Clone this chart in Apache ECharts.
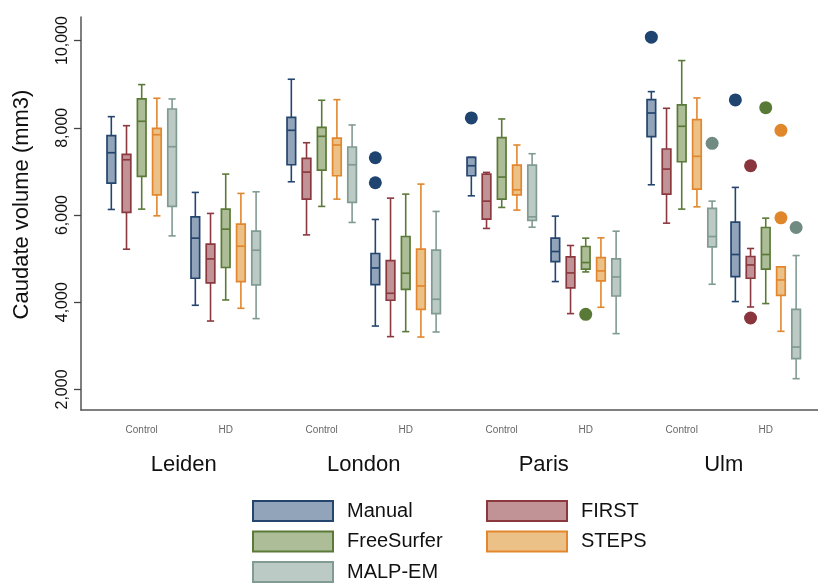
<!DOCTYPE html>
<html><head><meta charset="utf-8">
<script src="https://cdn.jsdelivr.net/npm/echarts@6/dist/echarts.min.js"></script>
<style>html,body{margin:0;padding:0;background:#fff}#c{width:818px;height:585px}</style>
</head><body><div id="c"></div>
<script>
const sites = ['Leiden','London','Paris','Ulm'];
const groups = ['Control','HD'];
const methods = ['Manual','FIRST','FreeSurfer','STEPS','MALP-EM'];
const yTicks = [2000,4000,6000,8000,10000];

// [min, Q1, median, Q3, max] per group: Leiden-Control, Leiden-HD, London-Control, London-HD, Paris-Control, Paris-HD, Ulm-Control, Ulm-HD
const manualBox = [
 [6127,6732,7428,7818,8255],[3930,4550,5469,5958,6518],
 [6762,7152,7942,8240,9113],[3454,4405,4786,5117,5898],
 [6440,6900,7129,7322,7322],[4474,4933,5163,5469,5974],
 [6693,7795,8339,8645,8829],[4015,4589,5094,5836,6633]];
const firstBox = [
 [5216,6059,7267,7391,8048],[3569,4442,4993,5331,6036],
 [5544,6364,6984,7299,7657],[3211,4045,4205,4956,6387],
 [5692,5905,6318,6938,6977],[3739,4327,4672,5039,5301],
 [5813,6479,7053,7513,8447],[3891,4550,4855,5048,5232]];
const freesurferBox = [
 [6135,6886,8149,8661,8990],[4052,4796,5675,6135,6938],
 [6197,7030,7804,8011,8631],[3326,4297,4665,5507,6479],
 [6174,6364,6870,7772,8202],[4695,4757,4910,5278,5469],
 [6135,7221,8034,8523,9541],[3969,4757,5094,5714,5928]];
const stepsBox = [
 [5981,6463,7841,7988,8677],[3861,4474,5285,5790,6495],
 [6364,6900,7605,7765,8645],[3202,3838,4373,5216,6709],
 [6112,6463,6578,7145,7605],[3884,4488,4718,5025,5476],
 [6187,6594,7345,8186,8684],[3333,4159,4511,4809,4809]];
const malpemBox = [
 [5521,6197,7566,8431,8661],[3624,4396,5193,5629,6532],
 [5829,6288,7152,7559,8064],[3318,3739,4068,5193,6082],
 [5721,5875,5958,7145,7405],[3280,4143,4580,4993,5629],
 [4412,5269,5507,6151,6318],[2247,2706,2972,3838,5071]];
// outliers: [group index, value]
const manualOut = [[3,7313],[3,6739],[4,8225],[6,10078],[7,8638]];
const firstOut = [[7,7129],[7,3638]];
const freesurferOut = [[5,3723],[7,8461]];
const stepsOut = [[7,7942],[7,5935]];
const malpemOut = [[6,7643],[7,5714]];

const boxes = [manualBox, firstBox, freesurferBox, stepsBox, malpemBox];
const outs = [manualOut, firstOut, freesurferOut, stepsOut, malpemOut];
const lineColors = ['#24456e','#8b393f','#5b7a38','#e2872d','#809b91'];
const fillColors = ['#92a4ba','#c19296','#adbd98','#ecc188','#bccac5'];
const dotColors  = ['#1f4470','#8a343c','#587a36','#e0862b','#6f8b82'];

// layout in axis units (one site = 1 unit)
const HD_SHIFT = 0.4667, METHOD_STEP = 0.0844;
const groupX = g => Math.floor(g/2) + (g%2)*HD_SHIFT;
const methodX = (g,m) => groupX(g) + (m-2)*METHOD_STEP;
const groupPos = []; for (let g=0; g<8; g++) groupPos.push(groupX(g));
const sitePos = sites.map((s,i)=> i + HD_SHIFT/2);

const FONT = "'Liberation Sans', Arial, Helvetica, sans-serif";

function makeRender(m){
  return function(params, api){
    const x = api.value(0);
    const lo = api.coord([x, api.value(1)]);
    const q1 = api.coord([x, api.value(2)]);
    const md = api.coord([x, api.value(3)]);
    const q3 = api.coord([x, api.value(4)]);
    const hi = api.coord([x, api.value(5)]);
    const cx = lo[0], half = 4.3, cap = 3.6;
    const ls = {stroke: lineColors[m], lineWidth: 1.6};
    return {type:'group', children:[
      {type:'line', shape:{x1:cx,y1:hi[1],x2:cx,y2:q3[1]}, style:ls},
      {type:'line', shape:{x1:cx,y1:q1[1],x2:cx,y2:lo[1]}, style:ls},
      {type:'line', shape:{x1:cx-cap,y1:hi[1],x2:cx+cap,y2:hi[1]}, style:ls},
      {type:'line', shape:{x1:cx-cap,y1:lo[1],x2:cx+cap,y2:lo[1]}, style:ls},
      {type:'rect', shape:{x:cx-half,y:q3[1],width:2*half,height:q1[1]-q3[1]},
        style:{fill:fillColors[m], stroke:lineColors[m], lineWidth:1.7}},
      {type:'line', shape:{x1:cx-half,y1:md[1],x2:cx+half,y2:md[1]}, style:{stroke:lineColors[m], lineWidth:1.7}}
    ]};
  };
}

const series = [];
methods.forEach((name,m)=>{
  series.push({
    name, type:'custom', renderItem: makeRender(m),
    itemStyle:{color:fillColors[m], borderColor:lineColors[m], borderWidth:2},
    encode:{x:0, y:[1,2,3,4,5]},
    data: boxes[m].map((b,g)=>[methodX(g,m)].concat(b)),
    z: 3
  });
  series.push({
    name, type:'scatter', symbol:'circle', symbolSize:13,
    itemStyle:{color:dotColors[m], opacity:1},
    data: outs[m].map(o=>[methodX(o[0],m), o[1]]),
    z: 4
  });
});

const legendItems = methods.map((name,m)=>({name, icon:'rect',
  itemStyle:{color:fillColors[m], borderColor:lineColors[m], borderWidth:2}}));

const XMIN = -0.3372, XMAX = 3.757;
const legendCommon = {
  orient:'vertical', top:500, padding:0, itemWidth:80, itemHeight:20, itemGap:8.5,
  height:110,
  textStyle:{fontSize:20, lineHeight:20, color:'#111', fontFamily:FONT, padding:[0,0,0,9]},
  selectedMode:false
};
const option = {
  backgroundColor:'#fff',
  animation:false,
  textStyle:{fontFamily:FONT},
  grid:{left:81, right:0, top:17, bottom:175, containLabel:false, outerBoundsMode:'none'},
  xAxis:[{
    type:'value', min:XMIN, max:XMAX,
    axisLine:{show:true, onZero:false, lineStyle:{color:'#555', width:1.5}},
    axisTick:{show:false}, splitLine:{show:false},
    axisLabel:{customValues:groupPos, fontSize:10, color:'#666', margin:15, fontFamily:FONT,
      formatter: v => { const i = groupPos.findIndex(p=>Math.abs(p-v)<1e-3); return i<0?'':groups[i%2]; }}
  },{
    type:'value', min:XMIN, max:XMAX, position:'bottom', offset:0,
    axisLine:{show:false}, axisTick:{show:false}, splitLine:{show:false},
    axisLabel:{customValues:sitePos, fontSize:22, color:'#111', margin:44, fontFamily:FONT,
      formatter: v => { const i = sitePos.findIndex(p=>Math.abs(p-v)<1e-3); return i<0?'':sites[i]; }}
  }],
  yAxis:{
    type:'value', min:1529, max:10540,
    axisLine:{show:true, onZero:false, lineStyle:{color:'#555', width:1.5}},
    axisTick:{show:true, length:7, customValues:yTicks, lineStyle:{color:'#444', width:1.3}},
    splitLine:{show:false},
    axisLabel:{customValues:yTicks, rotate:90, fontSize:16, color:'#111', margin:10, fontFamily:FONT,
      formatter: v => Number(v).toLocaleString('en-US')},
    name:'Caudate volume (mm3)', nameLocation:'middle', nameRotate:90, nameGap:48,
    nameTextStyle:{fontSize:22, color:'#111', fontFamily:FONT, padding:[0,0,0,18]}
  },
  legend:[
    Object.assign({}, legendCommon, {left:252, data:[legendItems[0], legendItems[2], legendItems[4]]}),
    Object.assign({}, legendCommon, {left:486, data:[legendItems[1], legendItems[3]]})
  ],
  series
};
const chart = echarts.init(document.getElementById('c'), null, {renderer:'canvas'});
chart.setOption(option);
</script></body></html>
